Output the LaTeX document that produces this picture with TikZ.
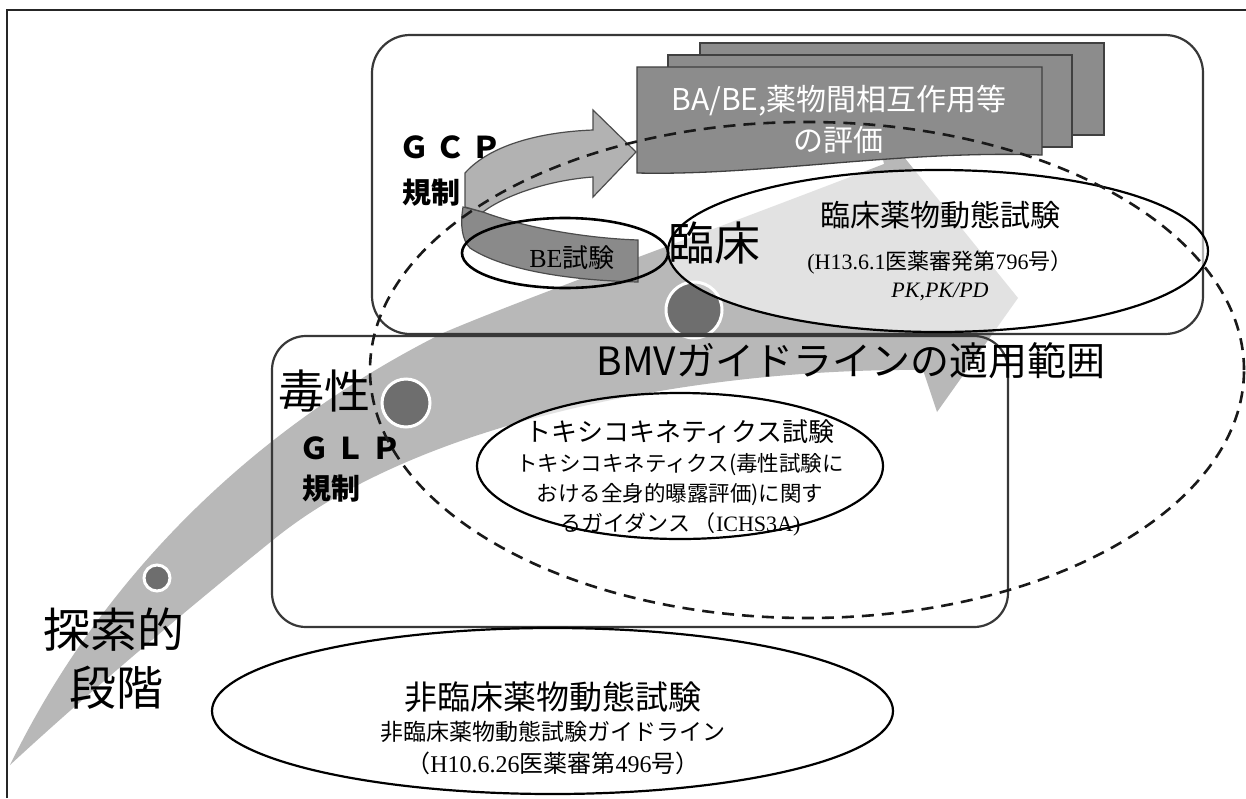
\documentclass[tikz,border=0pt]{standalone}
\usepackage{fontspec}
\setmainfont{Liberation Serif}
\newfontfamily\jp{Noto Sans CJK JP}
\usetikzlibrary{shapes.geometric}
\newcommand\fsz[1]{\fontsize{#1}{#1}\selectfont}
\begin{document}
\begin{tikzpicture}[x=1pt,y=-1pt,
  frameline/.style={draw=black!85,line width=2.4pt},
  band/.style={fill=black!28},
  dot/.style={circle,fill=black!57,draw=white,line width=3pt,inner sep=0pt},
  stagebox/.style={rectangle,draw=black!78,line width=2.2pt,rounded corners=38pt,inner sep=0pt},
  lens/.style={ellipse,draw=black,line width=2.2pt,fill=white,fill opacity=0.6,inner sep=0pt},
  plainlens/.style={ellipse,draw=black,line width=2.6pt,inner sep=0pt},
  scopeline/.style={ellipse,draw=black!90,line width=2.6pt,dash pattern=on 12pt off 8pt,inner sep=0pt},
  docbox/.style={fill=black!45,draw=black!75,line width=1.3pt},
  lightrib/.style={fill=black!30,draw=black!70,line width=1.2pt},
  darkrib/.style={fill=black!46,draw=black!70,line width=1.2pt},
  lbl/.style={inner sep=0pt,text=black}]
\useasboundingbox (0,0) rectangle (1246,798);
\fill[white] (0,0) rectangle (1246,798);
% outer frame
\draw[frameline] (7,798) -- (7,10) -- (1246,10);
% big gray progress band with arrowhead
\fill[band] (10,765) .. controls (100,580) and (250,430) .. (443,333)
  .. controls (520,300) and (700,235) .. (884,164) -- (874,120) -- (1018,298)
  -- (937,412) -- (923,370) .. controls (700,368) and (420,420) .. (273,540)
  .. controls (180,615) and (80,700) .. cycle;
% dots
\node[dot,minimum size=26pt] (d1) at (157,578) {};
\node[dot,minimum size=48pt] (d2) at (406,403) {};
\node[dot,minimum size=56pt] (d3) at (694,310) {};
% stage boxes
\node[stagebox,minimum width=831pt,minimum height=299pt] (clinbox) at (787.5,184.5) {};
\node[stagebox,minimum width=736pt,minimum height=291pt,rounded corners=34pt] (toxbox) at (640,481.5) {};
% ellipses
\node[lens,minimum width=540pt,minimum height=162pt] (clinlens) at (938,251) {};
\node[lens,minimum width=406pt,minimum height=146pt] (toxlens) at (680,466) {};
\node[lens,minimum width=681pt,minimum height=166pt,fill opacity=1] (nclens) at (552.5,711) {};
% stacked documents
\filldraw[docbox] (700,43) rectangle (1104,135);
\filldraw[docbox] (668,55) rectangle (1072,147);
\filldraw[docbox] (637,67) -- (1042,67) -- (1042,155) .. controls (900,150) and (760,176) .. (637,173) -- cycle;
\node[lbl,text=white,font=\jp\fsz{30}] (ba1) at (839,101) {BA/BE,薬物間相互作用等};
\node[lbl,text=white,font=\jp\fsz{30}] (ba2) at (838,140) {の評価};
% GCP curved arrow
\filldraw[darkrib] (463,207) .. controls (460,225) and (462,240) .. (470,248)
  .. controls (500,268) and (560,280) .. (638,282) -- (638,240)
  .. controls (580,238) and (520,226) .. (483,212) -- cycle;
\filldraw[lightrib] (465,173) .. controls (490,145) and (540,132) .. (593,130)
  -- (593,110) -- (636,152) -- (593,197) -- (593,177)
  .. controls (550,180) and (505,195) .. (483,212) -- (465,207) -- cycle;
\node[lbl,font=\fsz{26}] (betext) at (572,258) {BE{\jp 試験}};
\node[plainlens,minimum width=206pt,minimum height=70pt] (belens) at (565,253) {};
% labels
\node[lbl,font=\jp\bfseries\fsz{30}] (gcp) at (450,147) {Ｇ\hspace{6pt}Ｃ\hspace{6pt}Ｐ};
\node[lbl,font=\jp\bfseries\fsz{29}] (gcpreg) at (431,193) {規制};
\node[lbl,font=\jp\fsz{46}] (rinsho) at (714,243) {臨床};
\node[lbl,font=\jp\fsz{30}] (clint) at (940,215) {臨床薬物動態試験};
\node[lbl,font=\fsz{22}] (clinr) at (940,262) {(H13.6.1{\jp 医薬審発第}796{\jp 号）}};
\node[lbl,font=\fsz{22}\itshape] (clinpk) at (940,292) {PK,PK/PD};
\node[lbl,font=\jp\fsz{39}] (bmvt) at (851,361) {BMVガイドラインの適用範囲};
\node[lbl,font=\jp\fsz{46}] (doku) at (324,391) {毒性};
\node[lbl,font=\jp\bfseries\fsz{30}] (glp) at (350,448) {Ｇ\hspace{6pt}Ｌ\hspace{6pt}Ｐ};
\node[lbl,font=\jp\bfseries\fsz{29}] (glpreg) at (331,489) {規制};
\node[lbl,font=\jp\fsz{26}] (toxt) at (680,432) {トキシコキネティクス試験};
\node[lbl,font=\jp\fsz{21.5}] (tox1) at (680,465) {トキシコキネティクス(毒性試験に};
\node[lbl,font=\jp\fsz{21.5}] (tox2) at (680,495) {おける全身的曝露評価)に関す};
\node[lbl,font=\fsz{22}] (tox3) at (680,524) {{\jp るガイダンス\,（}ICHS3A)};
\node[lbl,font=\jp\fsz{47}] (tansaku) at (114,630) {探索的};
\node[lbl,font=\jp\fsz{47}] (dankai) at (116,688) {段階};
\node[lbl,font=\jp\fsz{33}] (nct) at (553,697) {非臨床薬物動態試験};
\node[lbl,font=\jp\fsz{23}] (nc1) at (553,732) {非臨床薬物動態試験ガイドライン};
\node[lbl,font=\fsz{24}] (nc2) at (553,763) {{\jp （}H10.6.26{\jp 医薬審第}496{\jp 号）}};
% BMV guideline scope
\node[scopeline,minimum width=874pt,minimum height=496pt] (scope) at (807,370) {};
\end{tikzpicture}
\end{document}
